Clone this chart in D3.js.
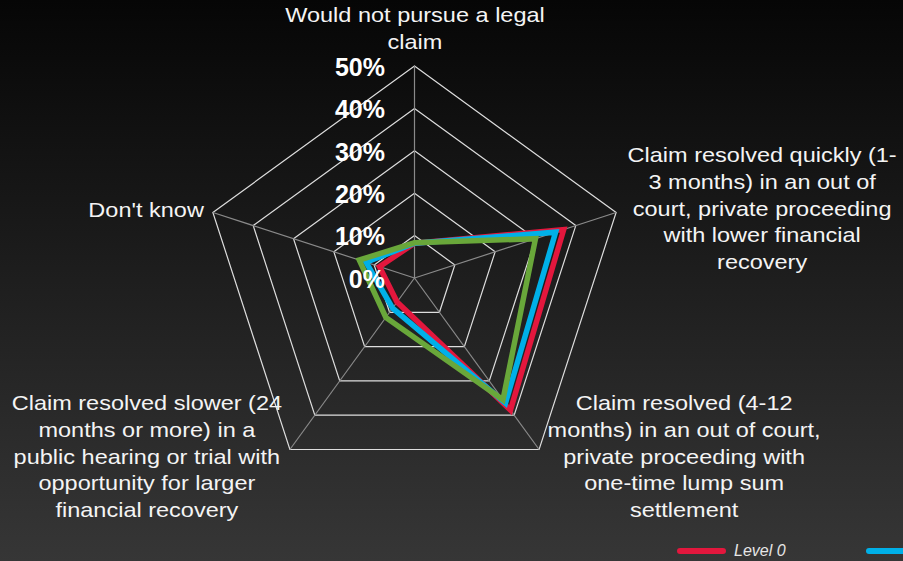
<!DOCTYPE html>
<html>
<head>
<meta charset="utf-8">
<script src="https://cdn.jsdelivr.net/npm/d3@7"></script>
<style>
  html, body { margin: 0; padding: 0; background: #000; }
  svg { display: block; }
</style>
</head>
<body>
<svg id="chart" width="903" height="561"></svg>
<script>
// Radar axes (clockwise from the top)
const axisLabels = [
  ["Would not pursue a legal", "claim"],
  ["Claim resolved quickly (1-", "3 months) in an out of", "court, private proceeding", "with lower financial", "recovery"],
  ["Claim resolved (4-12", "months) in an out of court,", "private proceeding with", "one-time lump sum", "settlement"],
  ["Claim resolved slower (24", "months or more) in a", "public hearing or trial with", "opportunity for larger", "financial recovery"],
  ["Don't know"]
];

// Share of respondents (%) per axis
const seriesNames = ["Level 0", "Level 1", "Level 2"];
const level0 = [8.2, 37, 38.5, 7, 8.7];
const level1 = [8.2, 35, 36.5, 8.8, 12];
const level2 = [8.3, 30, 35.5, 11.5, 13.7];
const seriesColors = ["#e3173d", "#00b0e8", "#69a73a"];

const tickValues = [0, 10, 20, 30, 40, 50];
const tickLabels = ["0%", "10%", "20%", "30%", "40%", "50%"];

const svg = d3.select("#chart");
const W = 903, H = 561;

// background gradient
const defs = svg.append("defs");
const grad = defs.append("linearGradient")
  .attr("id", "bg").attr("x1", 0).attr("y1", 0).attr("x2", 0).attr("y2", 1);
grad.append("stop").attr("offset", "0%").attr("stop-color", "#060606");
grad.append("stop").attr("offset", "100%").attr("stop-color", "#363636");
svg.append("rect").attr("width", W).attr("height", H).attr("fill", "url(#bg)");

const cx = 414.5, cy = 278;
const r = d3.scaleLinear().domain([0, 50]).range([0, 212]);
const angle = d3.scaleLinear().domain([0, axisLabels.length]).range([0, 2 * Math.PI]);

const g = svg.append("g").attr("transform", `translate(${cx},${cy})`);

const pt = (i, v) => {
  const a = angle(i);
  return [r(v) * Math.sin(a), -r(v) * Math.cos(a)];
};

// rings
const ringLine = d3.lineRadial()
  .angle((d, i) => angle(i))
  .radius(d => r(d))
  .curve(d3.curveLinearClosed);

tickValues.filter(t => t > 0).forEach(t => {
  g.append("path")
    .attr("d", ringLine(axisLabels.map(() => t)))
    .attr("fill", "none")
    .attr("stroke", "#dedede")
    .attr("stroke-width", 1.2);
});

// spokes
axisLabels.forEach((_, i) => {
  const [x, y] = pt(i, 50);
  g.append("line")
    .attr("x1", 0).attr("y1", 0).attr("x2", x).attr("y2", y)
    .attr("stroke", "#8a8a8a")
    .attr("stroke-width", 1.2);
});

// series polygons
const seriesLine = d3.lineRadial()
  .angle((d, i) => angle(i))
  .radius(d => r(d))
  .curve(d3.curveLinearClosed);

[level0, level1, level2].forEach((vals, s) => {
  g.append("path")
    .attr("d", seriesLine(vals))
    .attr("fill", "none")
    .attr("stroke", seriesColors[s])
    .attr("stroke-width", 5.5)
    .attr("stroke-linejoin", "miter")
    .attr("stroke-miterlimit", 10);
});

// tick labels
g.selectAll("text.tick")
  .data(tickValues)
  .join("text")
  .attr("class", "tick")
  .attr("x", -29.5)
  .attr("y", d => -r(d) + 1)
  .attr("dy", "0.35em")
  .attr("text-anchor", "end")
  .attr("fill", "#ffffff")
  .attr("font-family", "'Liberation Sans', Arial, sans-serif")
  .attr("font-weight", "bold")
  .attr("font-size", 25)
  .text((d, i) => tickLabels[i]);

// axis labels: offset from each outer vertex
const labelPlacement = [
  { dx: 0.5, dy: -44, anchor: "middle" },
  { dx: 146, dy: -50.5, anchor: "middle" },
  { dx: 145, dy: -39.5, anchor: "middle" },
  { dx: -143, dy: -39.5, anchor: "middle" },
  { dx: -9, dy: 4.5, anchor: "end" }
];
const lineH = 26.8;

axisLabels.forEach((lines, i) => {
  const [vx, vy] = pt(i, 50);
  const p = labelPlacement[i];
  const t = g.append("text")
    .attr("transform", `translate(${vx + p.dx},${vy + p.dy}) scale(1.12,1)`)
    .attr("text-anchor", p.anchor)
    .attr("fill", "#f4f4f4")
    .attr("font-family", "'Liberation Sans', Arial, sans-serif")
    .attr("font-size", 21);
  lines.forEach((ln, k) => {
    t.append("tspan").attr("x", 0).attr("y", k * lineH).text(ln);
  });
});

// legend: entries run off the right edge; only labels that fit are written
const legend = svg.append("g");
seriesNames.forEach((name, s) => {
  const x0 = 680 + s * 189;
  if (x0 >= W) return;
  legend.append("line")
    .attr("x1", x0).attr("x2", x0 + 43)
    .attr("y1", 551).attr("y2", 551)
    .attr("stroke", seriesColors[s])
    .attr("stroke-width", 6)
    .attr("stroke-linecap", "round");
  if (x0 + 54 + 55 <= W) {
    legend.append("text")
      .attr("x", x0 + 54).attr("y", 556)
      .attr("fill", "#e6e6e6")
      .attr("font-family", "'Liberation Sans', Arial, sans-serif")
      .attr("font-style", "italic")
      .attr("font-size", 16)
      .text(name);
  }
});
</script>
</body>
</html>
